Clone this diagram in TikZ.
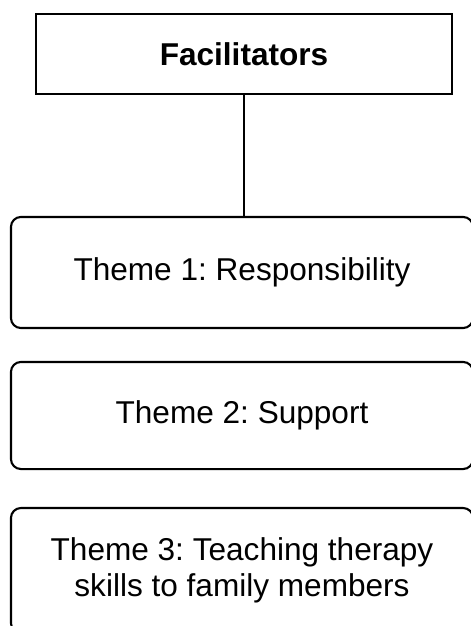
\documentclass[tikz,border=0pt]{standalone}
\usepackage{fontspec}
\setmainfont{Liberation Sans}
\frenchspacing

\begin{document}
\begin{tikzpicture}[x=0.38pt,y=-0.38pt,line width=.8pt,font=\fontsize{12}{13.8}\selectfont,
  facbox/.style={draw,rectangle,minimum width=158pt,minimum height=30.4pt,inner sep=0pt},
  themebox/.style={draw,rounded corners=3.8pt,minimum width=175.6pt,inner sep=0pt,align=center}]
\useasboundingbox (0,0) rectangle (471,626);
\clip (0,0) rectangle (471,626);
\node[facbox,font=\fontsize{12}{13.8}\selectfont\bfseries] (fac) at (244,54) {Facilitators};
\node[themebox,minimum height=42.2pt] (resp) at (242,272.5) {Theme 1: Responsibility};
\node[themebox,minimum height=40.7pt] (supp) at (242,415.5) {Theme 2: Support};
\node[themebox,minimum height=47.5pt] (teach) at (242,570.5) {Theme 3: Teaching therapy\\skills to family members};
\draw (fac.south) -- (fac.south |- resp.north);
\end{tikzpicture}
\end{document}
